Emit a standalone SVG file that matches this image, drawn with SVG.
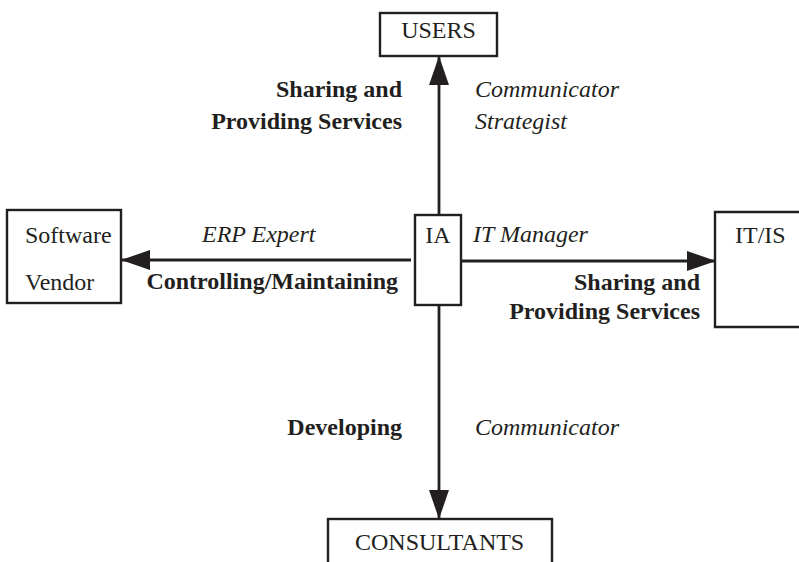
<svg xmlns="http://www.w3.org/2000/svg" width="799" height="562" viewBox="0 0 799 562">
<defs>
<style>
.box{fill:#fff;stroke:#231f20;stroke-width:2.4}
.ln{stroke:#231f20;stroke-width:2.8;fill:none}
.t{font-family:"Liberation Serif","Times New Roman",serif;font-size:24px;fill:#231f20}
.b{font-weight:bold}
.i{font-style:italic}
.e{text-anchor:end}
.m{text-anchor:middle}
</style>
<marker id="ah" viewBox="0 0 29 20" refX="29" refY="10" markerWidth="29" markerHeight="20" markerUnits="userSpaceOnUse" orient="auto">
<path d="M0,0 L29,10 L0,20 Z" fill="#231f20"/>
</marker>
</defs>
<rect width="799" height="562" fill="#fff"/>
<g id="connectors">
<line class="ln" x1="439" y1="215" x2="439" y2="56" marker-end="url(#ah)"/>
<line class="ln" x1="411" y1="260" x2="121" y2="260" marker-end="url(#ah)"/>
<line class="ln" x1="461" y1="261" x2="716" y2="261" marker-end="url(#ah)"/>
<line class="ln" x1="439" y1="305" x2="439" y2="519" marker-end="url(#ah)"/>
</g>
<g id="users">
<rect class="box" x="380" y="13" width="117" height="43"/>
<text class="t m" x="438.5" y="38">USERS</text>
</g>
<g id="software-vendor">
<rect class="box" x="7" y="210" width="114" height="93"/>
<text class="t" x="25" y="243">Software</text>
<text class="t" x="25" y="290">Vendor</text>
</g>
<g id="ia">
<rect class="box" x="415" y="215" width="46" height="90"/>
<text class="t m" x="438" y="243">IA</text>
</g>
<g id="itis">
<path class="box" d="M801,212 H715 V327 H801"/>
<text class="t" x="735" y="243">IT/IS</text>
</g>
<g id="consultants">
<rect class="box" x="328" y="519" width="224" height="50"/>
<text class="t" x="355" y="550">CONSULTANTS</text>
</g>
<g id="labels">
<text class="t b e" x="402" y="97">Sharing and</text>
<text class="t b e" x="402" y="129">Providing Services</text>
<text class="t i" x="475" y="97">Communicator</text>
<text class="t i" x="475" y="129">Strategist</text>
<text class="t i" x="202" y="242">ERP Expert</text>
<text class="t b e" x="398" y="289">Controlling/Maintaining</text>
<text class="t i" x="473" y="242">IT Manager</text>
<text class="t b e" x="700" y="290">Sharing and</text>
<text class="t b e" x="700" y="319">Providing Services</text>
<text class="t b e" x="402" y="435">Developing</text>
<text class="t i" x="475" y="435">Communicator</text>
</g>
</svg>
